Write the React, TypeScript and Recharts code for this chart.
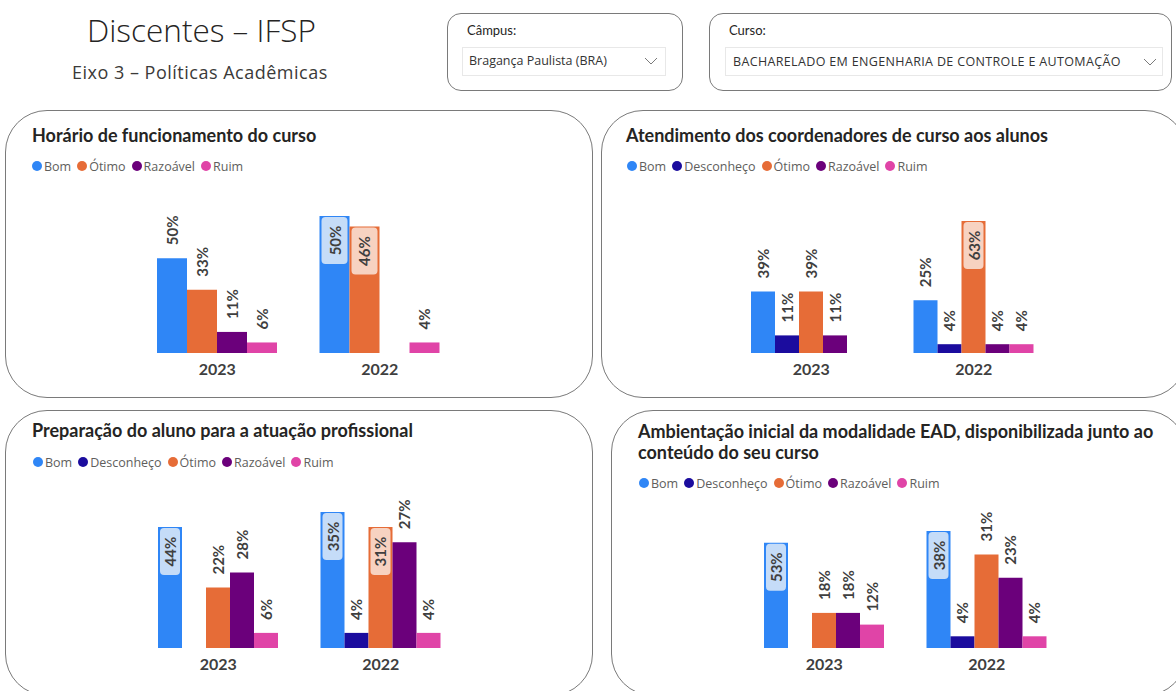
import React from 'react';
import { BarChart, Bar, XAxis, YAxis, LabelList } from 'recharts';

const years = ['2023', '2022'];
const seriesKeys = ['bom', 'desc', 'otimo', 'raz', 'ruim'];
const seriesNames = ['Bom', 'Desconheço', 'Ótimo', 'Razoável', 'Ruim'];

// Horário de funcionamento do curso (respondent counts and % labels)
const horarioBom = [9, 13];
const horarioOtimo = [6, 12];
const horarioRazoavel = [2, null];
const horarioRuim = [1, 1];
const horarioBomPct = [50, 50];
const horarioOtimoPct = [33, 46];
const horarioRazoavelPct = [11, null];
const horarioRuimPct = [6, 4];

// Atendimento dos coordenadores de curso aos alunos
const atendBom = [7, 6];
const atendDesc = [2, 1];
const atendOtimo = [7, 15];
const atendRazoavel = [2, 1];
const atendRuim = [null, 1];
const atendBomPct = [39, 25];
const atendDescPct = [11, 4];
const atendOtimoPct = [39, 63];
const atendRazoavelPct = [11, 4];
const atendRuimPct = [null, 4];

// Preparação do aluno para a atuação profissional
const prepBom = [8, 9];
const prepDesc = [null, 1];
const prepOtimo = [4, 8];
const prepRazoavel = [5, 7];
const prepRuim = [1, 1];
const prepBomPct = [44, 35];
const prepDescPct = [null, 4];
const prepOtimoPct = [22, 31];
const prepRazoavelPct = [28, 27];
const prepRuimPct = [6, 4];

// Ambientação inicial da modalidade EAD
const ambBom = [9, 10];
const ambDesc = [null, 1];
const ambOtimo = [3, 8];
const ambRazoavel = [3, 6];
const ambRuim = [2, 1];
const ambBomPct = [53, 38];
const ambDescPct = [null, 4];
const ambOtimoPct = [18, 31];
const ambRazoavelPct = [18, 23];
const ambRuimPct = [12, 4];

const COLORS: Record<string, string> = {
  bom: '#2F86F6',
  desc: '#1B0C9E',
  otimo: '#E66C37',
  raz: '#6B007B',
  ruim: '#E044A7',
};
const LIGHT: Record<string, string> = {
  bom: '#C5DCF8',
  desc: '#BDB8E0',
  otimo: '#F7D2C1',
  raz: '#D5B3DA',
  ruim: '#F6C6E4',
};

type SeriesMap = Record<string, (number | null)[]>;

const buildRows = (keys: string[], counts: SeriesMap, pcts: SeriesMap) =>
  years.map((y, i) => {
    const row: any = { year: y };
    keys.forEach((k) => {
      row[k] = counts[k][i];
      row[k + 'Pct'] = pcts[k][i];
    });
    return row;
  });

const LABEL_FONT = 'Lato, "Open Sans", sans-serif';

const makeLabel = (plotTop: number, key: string) => (props: any) => {
  const { x, y, width, height, value } = props;
  if (value == null || height == null || isNaN(Number(y))) return null;
  const bx = Number(x);
  const bw = Number(width);
  const top = Number(y);
  const cx = bx + bw / 2;
  const text = `${value}%`;
  if (top - plotTop < 22) {
    const by = top + 1;
    const cy = by + 23.5;
    return (
      <g>
        <rect x={bx + 2} y={by} width={bw - 4} height={47} rx={4} fill={LIGHT[key]} />
        <text
          x={cx}
          y={cy}
          transform={`rotate(-90 ${cx} ${cy})`}
          textAnchor="middle"
          dominantBaseline="central"
          fontFamily={LABEL_FONT}
          fontWeight={700}
          fontSize={15}
          fill="#3F3F3F"
        >
          {text}
        </text>
      </g>
    );
  }
  const ly = top - 13;
  return (
    <text
      x={cx}
      y={ly}
      transform={`rotate(-90 ${cx} ${ly})`}
      textAnchor="start"
      dominantBaseline="central"
      fontFamily={LABEL_FONT}
      fontWeight={700}
      fontSize={15}
      fill="#3F3F3F"
    >
      {text}
    </text>
  );
};

type ChartProps = {
  keys: string[];
  counts: SeriesMap;
  pcts: SeriesMap;
  left: number;
  top: number;
  height: number;
  marginTop: number;
  barSize: number;
};

const AXIS_H = 30;

const PanelChart = ({ keys, counts, pcts, left, top, height, marginTop, barSize }: ChartProps) => {
  const rows = buildRows(keys, counts, pcts);
  const plotBottom = height - AXIS_H;
  const renderTick = (p: any) => (
    <text
      x={p.x}
      y={plotBottom + 15}
      textAnchor="middle"
      dominantBaseline="central"
      fontFamily={LABEL_FONT}
      fontWeight={700}
      fontSize={16}
      fill="#3F3F3F"
    >
      {p.payload.value}
    </text>
  );
  return (
    <div style={{ position: 'absolute', left, top }}>
      <BarChart
        width={325}
        height={height}
        data={rows}
        margin={{ top: marginTop, right: 0, bottom: 0, left: 0 }}
        barGap={0}
        barSize={barSize}
      >
        <XAxis dataKey="year" axisLine={false} tickLine={false} height={AXIS_H} tick={renderTick} interval={0} />
        <YAxis hide domain={[0, 'dataMax']} />
        {keys.map((k) => (
          <Bar key={k} dataKey={k} fill={COLORS[k]} isAnimationActive={false}>
            <LabelList dataKey={k + 'Pct'} content={makeLabel(marginTop, k)} />
          </Bar>
        ))}
      </BarChart>
    </div>
  );
};

const Legend = ({ keys, left, top }: { keys: string[]; left: number; top: number }) => (
  <div
    style={{
      position: 'absolute',
      left,
      top,
      height: 16,
      display: 'flex',
      alignItems: 'center',
      fontFamily: '"Open Sans", sans-serif',
      fontSize: 12.5,
      color: '#605E5C',
      whiteSpace: 'nowrap',
    }}
  >
    {keys.map((k) => (
      <div key={k} style={{ display: 'flex', alignItems: 'center', marginRight: 6 }}>
        <span
          style={{ width: 10, height: 10, borderRadius: 5, background: COLORS[k], display: 'inline-block', marginRight: 2 }}
        />
        <span>{seriesNames[seriesKeys.indexOf(k)]}</span>
      </div>
    ))}
  </div>
);

const Panel = ({ left, top, width, height }: { left: number; top: number; width: number; height: number }) => (
  <div
    style={{
      position: 'absolute',
      left,
      top,
      width,
      height,
      border: '1.5px solid #7A7A7A',
      borderRadius: 42,
      boxSizing: 'border-box',
      background: '#fff',
    }}
  />
);

const Title = ({ left, top, children }: { left: number; top: number; children: React.ReactNode }) => (
  <div
    style={{
      position: 'absolute',
      left,
      top,
      fontFamily: 'Lato, sans-serif',
      fontWeight: 700,
      fontSize: 18,
      lineHeight: '21px',
      color: '#252423',
      whiteSpace: 'nowrap',
    }}
  >
    {children}
  </div>
);

const Chevron = ({ left, top }: { left: number; top: number }) => (
  <svg style={{ position: 'absolute', left, top }} width={14} height={8}>
    <polyline points="1,1 7,7 13,1" fill="none" stroke="#7A7A7A" strokeWidth={1} />
  </svg>
);

export default function App() {
  const k4 = ['bom', 'otimo', 'raz', 'ruim'];
  const k5 = ['bom', 'desc', 'otimo', 'raz', 'ruim'];
  return (
    <div
      style={{
        position: 'fixed',
        left: 0,
        top: 0,
        width: 1176,
        height: 691,
        overflow: 'hidden',
        background: '#fff',
        fontFamily: '"Open Sans", sans-serif',
      }}
    >
      {/* Header */}
      <div
        style={{
          position: 'absolute',
          left: 87,
          top: 10,
          fontFamily: '"Open Sans", sans-serif',
          fontWeight: 300,
          fontSize: 31.5,
          lineHeight: '40px',
          color: '#252423',
          whiteSpace: 'nowrap',
        }}
      >
        Discentes – IFSP
      </div>
      <div
        style={{
          position: 'absolute',
          left: 72,
          top: 60,
          fontFamily: '"Open Sans", sans-serif',
          fontSize: 18,
          letterSpacing: 0.5,
          lineHeight: '24px',
          color: '#3B3A39',
          whiteSpace: 'nowrap',
        }}
      >
        Eixo 3 – Políticas Acadêmicas
      </div>

      {/* Slicers */}
      <div
        style={{
          position: 'absolute',
          left: 447,
          top: 13,
          width: 236,
          height: 78,
          border: '1.5px solid #7A7A7A',
          borderRadius: 14,
          boxSizing: 'border-box',
        }}
      />
      <div style={{ position: 'absolute', left: 467, top: 22, fontSize: 13, color: '#252423', fontFamily: 'Lato, sans-serif' }}>
        Câmpus:
      </div>
      <div
        style={{
          position: 'absolute',
          left: 462,
          top: 47,
          width: 204,
          height: 29,
          border: '1px solid #E8E8E8',
          boxSizing: 'border-box',
        }}
      />
      <div style={{ position: 'absolute', left: 469, top: 52, fontSize: 12.5, color: '#333', whiteSpace: 'nowrap' }}>
        Bragança Paulista (BRA)
      </div>
      <Chevron left={644} top={57} />

      <div
        style={{
          position: 'absolute',
          left: 709,
          top: 13,
          width: 463,
          height: 78,
          border: '1.5px solid #7A7A7A',
          borderRadius: 14,
          boxSizing: 'border-box',
        }}
      />
      <div style={{ position: 'absolute', left: 729, top: 22, fontSize: 13, color: '#252423', fontFamily: 'Lato, sans-serif' }}>
        Curso:
      </div>
      <div
        style={{
          position: 'absolute',
          left: 725,
          top: 47,
          width: 438,
          height: 29,
          border: '1px solid #E8E8E8',
          boxSizing: 'border-box',
        }}
      />
      <div
        style={{
          position: 'absolute',
          left: 733,
          top: 53,
          fontSize: 12.5,
          letterSpacing: 0.35,
          color: '#333',
          whiteSpace: 'nowrap',
        }}
      >
        BACHARELADO EM ENGENHARIA DE CONTROLE E AUTOMAÇÃO
      </div>
      <Chevron left={1143} top={58} />

      {/* Panels */}
      <Panel left={5} top={110} width={588} height={288} />
      <Panel left={601} top={110} width={586} height={288} />
      <Panel left={5} top={410} width={588} height={286} />
      <Panel left={611} top={410} width={576} height={286} />

      {/* Panel 1 */}
      <Title left={32} top={125}>Horário de funcionamento do curso</Title>
      <Legend keys={k4} left={32} top={158} />
      <PanelChart
        keys={k4}
        counts={{ bom: horarioBom, otimo: horarioOtimo, raz: horarioRazoavel, ruim: horarioRuim }}
        pcts={{ bom: horarioBomPct, otimo: horarioOtimoPct, raz: horarioRazoavelPct, ruim: horarioRuimPct }}
        left={136}
        top={170}
        height={213}
        marginTop={46}
        barSize={30}
      />

      {/* Panel 2 */}
      <Title left={626} top={125}>Atendimento dos coordenadores de curso aos alunos</Title>
      <Legend keys={k5} left={627} top={158} />
      <PanelChart
        keys={k5}
        counts={{ bom: atendBom, desc: atendDesc, otimo: atendOtimo, raz: atendRazoavel, ruim: atendRuim }}
        pcts={{ bom: atendBomPct, desc: atendDescPct, otimo: atendOtimoPct, raz: atendRazoavelPct, ruim: atendRuimPct }}
        left={730}
        top={175}
        height={208}
        marginTop={46}
        barSize={24}
      />

      {/* Panel 3 */}
      <Title left={32} top={420}>Preparação do aluno para a atuação profissional</Title>
      <Legend keys={k5} left={33} top={454} />
      <PanelChart
        keys={k5}
        counts={{ bom: prepBom, desc: prepDesc, otimo: prepOtimo, raz: prepRazoavel, ruim: prepRuim }}
        pcts={{ bom: prepBomPct, desc: prepDescPct, otimo: prepOtimoPct, raz: prepRazoavelPct, ruim: prepRuimPct }}
        left={137}
        top={470}
        height={208}
        marginTop={42}
        barSize={24}
      />

      {/* Panel 4 */}
      <Title left={638} top={421}>
        Ambientação inicial da modalidade EAD, disponibilizada junto ao
        <br />
        conteúdo do seu curso
      </Title>
      <Legend keys={k5} left={639} top={475} />
      <PanelChart
        keys={k5}
        counts={{ bom: ambBom, desc: ambDesc, otimo: ambOtimo, raz: ambRazoavel, ruim: ambRuim }}
        pcts={{ bom: ambBomPct, desc: ambDescPct, otimo: ambOtimoPct, raz: ambRazoavelPct, ruim: ambRuimPct }}
        left={743}
        top={495}
        height={183}
        marginTop={36}
        barSize={24}
      />
    </div>
  );
}
